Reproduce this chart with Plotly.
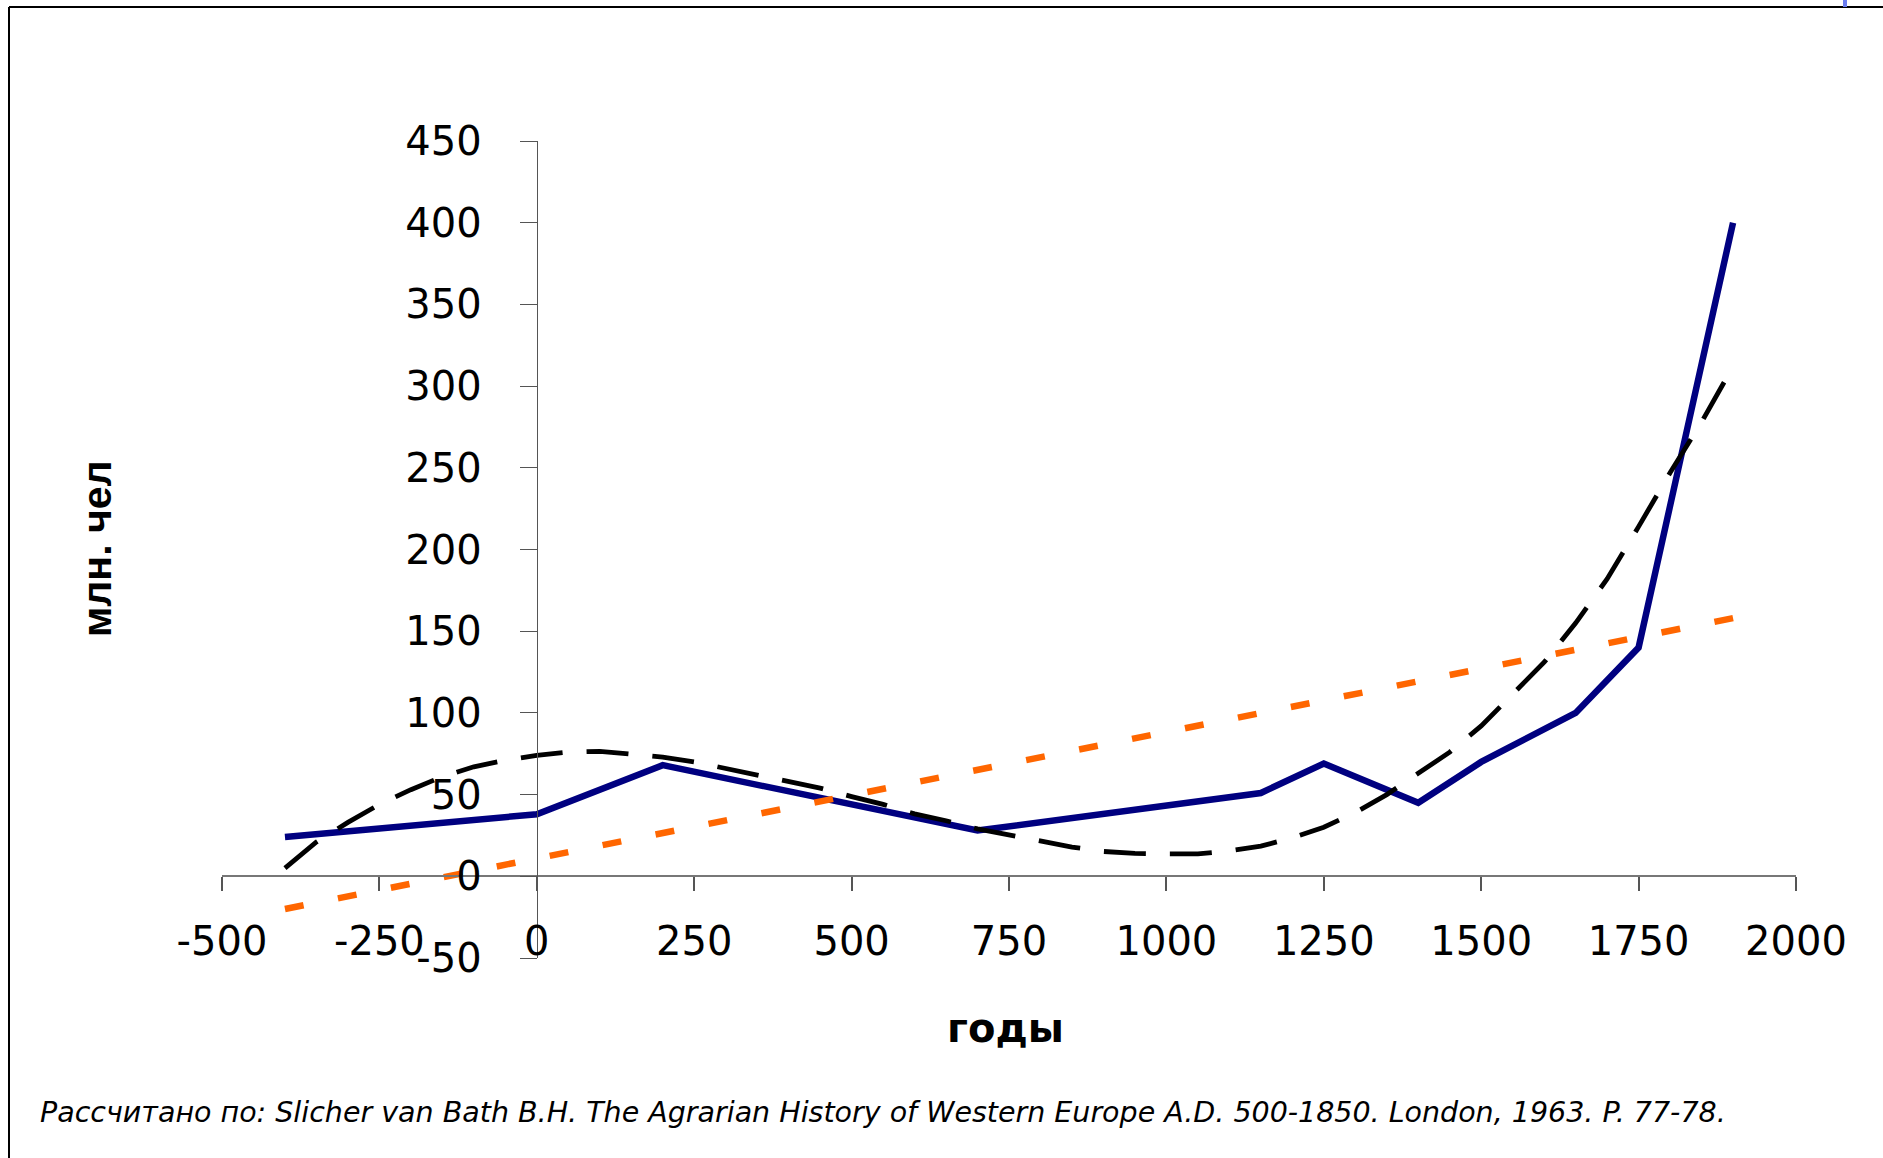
import plotly.graph_objects as go

# ---- data ----
pop_years = [-400, 0, 200, 700, 1150, 1250, 1400, 1500, 1650, 1750, 1900]
population = [24, 38, 68, 28, 51, 69, 45, 70, 100, 140, 400]

poly_years = [-400, -350, -300, -250, -200, -150, -100, -50, 0, 50, 100, 150, 200, 250,
              300, 350, 400, 450, 500, 550, 600, 650, 700, 750, 800, 850, 900, 950,
              1000, 1050, 1100, 1150, 1200, 1250, 1300, 1350, 1400, 1450, 1500, 1550,
              1600, 1650, 1700, 1750, 1800, 1850, 1900]
poly_trend = [5, 21, 33, 44, 53, 61, 67, 71, 74, 76, 76.5, 75, 73, 70,
              66, 62.4, 58.7, 54, 48.8, 44, 38.2, 34, 29, 25.2, 21.4, 17.9, 15.2, 14,
              13.7, 13.7, 15.5, 18.5, 23.5, 30, 39, 50, 63, 76, 92, 112,
              131, 155, 182, 214, 247, 278, 312]

lin_years = [-400, 1900]
lin_trend = [-20, 158]

x_tickvals = [-500, -250, 0, 250, 500, 750, 1000, 1250, 1500, 1750, 2000]
x_ticktext = ["-500", "-250", "0", "250", "500", "750", "1000", "1250", "1500", "1750", "2000"]
y_tickvals = [-50, 0, 50, 100, 150, 200, 250, 300, 350, 400, 450]
y_ticktext = ["-50", "0", "50", "100", "150", "200", "250", "300", "350", "400", "450"]

x_title = "годы"
y_title = "млн. чел"
caption = ("Рассчитано по: Slicher van Bath B.H. The Agrarian History of Western Europe "
           "A.D. 500-1850. London, 1963. P. 77-78.")

# ---- layout geometry (pixels) ----
W, H = 1883, 1158
L, R, T, B = 222, 87, 141, 200
PW, PH = W - L - R, H - T - B


def px(xp):
    return (xp - L) / PW


def py(yp):
    return (H - B - yp) / PH


fig = go.Figure()
fig.add_trace(go.Scatter(x=pop_years, y=population, mode="lines",
                         line=dict(color="#000080", width=6.5), hoverinfo="skip"))
fig.add_trace(go.Scatter(x=lin_years, y=lin_trend, mode="lines",
                         line=dict(color="#FF6600", width=6.5, dash="19px,35px"),
                         hoverinfo="skip"))
fig.add_trace(go.Scatter(x=poly_years, y=poly_trend, mode="lines",
                         line=dict(color="#000000", width=4.8, dash="42px,24px"),
                         hoverinfo="skip"))

tickfont = dict(family="DejaVu Sans", size=40, color="black")

fig.update_layout(
    width=W, height=H,
    margin=dict(l=L, r=R, t=T, b=B, pad=0),
    paper_bgcolor="white", plot_bgcolor="white",
    showlegend=False,
    xaxis=dict(range=[-500, 2000], tickvals=x_tickvals, ticktext=x_ticktext,
               anchor="free", position=0.1, showline=True, linecolor="#777777",
               linewidth=1.5, ticks="outside", ticklen=14, tickwidth=1.5,
               tickcolor="#555555", showgrid=False, zeroline=False,
               tickfont=tickfont, ticklabelstandoff=16),
    yaxis=dict(range=[-50, 450], tickvals=y_tickvals, ticktext=y_ticktext,
               anchor="free", position=0.2, showline=True, linecolor="#555555",
               linewidth=1.3, ticks="outside", ticklen=17, tickwidth=1.3,
               tickcolor="#555555", showgrid=False, zeroline=False,
               tickfont=tickfont, ticklabelstandoff=30),
    annotations=[
        dict(text=x_title, xref="paper", yref="paper", x=px(1005), y=py(1028),
             xanchor="center", yanchor="middle", showarrow=False,
             font=dict(family="DejaVu Sans", size=40, color="black", weight="bold")),
        dict(text=y_title, xref="paper", yref="paper", x=px(97), y=py(549),
             xanchor="center", yanchor="middle", showarrow=False, textangle=-90,
             font=dict(family="Liberation Sans", size=41, color="black", weight="bold")),
        dict(text=caption, xref="paper", yref="paper", x=px(38), y=py(1112),
             xanchor="left", yanchor="middle", showarrow=False,
             font=dict(family="DejaVu Sans", size=28.5, color="black", style="italic")),
    ],
    shapes=[
        dict(type="line", xref="paper", yref="paper", x0=px(9), x1=px(W), y0=py(7), y1=py(7),
             line=dict(color="black", width=2)),
        dict(type="line", xref="paper", yref="paper", x0=px(9), x1=px(9), y0=py(7), y1=py(H),
             line=dict(color="black", width=2)),
        dict(type="rect", xref="paper", yref="paper", x0=px(1843), x1=px(1847), y0=py(0), y1=py(7),
             line=dict(width=0), fillcolor="#6a7df0"),
    ],
)

fig.write_html("out.html", config={"displayModeBar": False},
               post_script="document.body.style.margin='0';")
